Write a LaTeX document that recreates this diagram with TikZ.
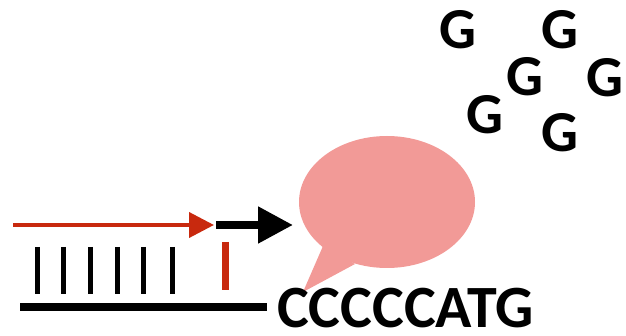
\documentclass[tikz,border=0pt]{standalone}
\usepackage{fontspec}
\setmainfont{Carlito}
\usetikzlibrary{arrows.meta, shapes.geometric, positioning, calc}
\definecolor{primer}{HTML}{C8290E}
\definecolor{bubble}{HTML}{F29A97}

\begin{document}
\begin{tikzpicture}[
      x=1pt, y=-1pt,
      base/.style    = {font=\bfseries\fontsize{60}{60}\selectfont, inner sep=0pt,
                        text depth=0pt},
      nucl/.style    = {font=\bfseries\fontsize{58}{58}\selectfont, inner sep=0pt},
      rung/.style    = {line width=5pt},
      primarr/.style = {primer, line width=4pt, -{Triangle[length=25pt, width=25pt]}},
      extarr/.style  = {black, line width=8pt, -{Triangle[length=35pt, width=35pt]}},
      balloon/.style = {ellipse, fill=bubble, draw=none, inner sep=0pt,
                        minimum width=176pt, minimum height=132pt},
    ]
    \useasboundingbox (0,0) rectangle (626,336);

    % template strand and base pairs
    \coordinate (tmplL) at (20,307);
    \coordinate (tmplR) at (267,307);
    \draw[line width=8pt] (tmplL) -- (tmplR);
    \foreach \x in {37,63,90,117,143,172}
      \draw[rung] (\x,247) -- (\x,294);
    \draw[rung, primer, line width=7pt] (225,242) -- (225,290);

    % primer and extension
    \coordinate (primS) at (13,225);
    \coordinate (primE) at (214,225);
    \coordinate (extS) at (216,225);
    \coordinate (extE) at (293,225);
    \draw[primarr] (primS) -- (primE);
    \draw[extarr] (extS) -- (extE);

    % speech bubble
    \node[balloon] (bub) at (387,202) {};
    \coordinate (tip) at (303,292);
    \fill[bubble] (323,246) -- (tip) -- (355,264) -- cycle;

    % sequence
    \node[base, anchor=base west] (seq) at (277,327) {CCCCCATG};

    % free nucleotides
    \foreach \gx/\gy [count=\i] in {458/30, 560/30, 525/77, 605/78, 485/115, 560/133}
      \node[nucl] (g\i) at (\gx,\gy) {G};

  \end{tikzpicture}
\end{document}
